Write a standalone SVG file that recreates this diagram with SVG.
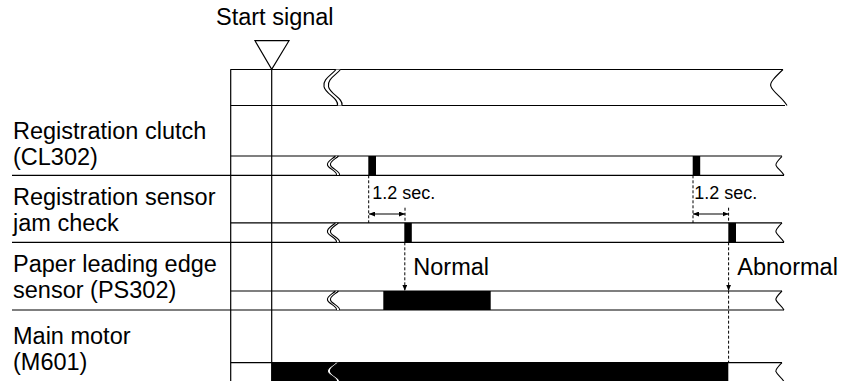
<svg xmlns="http://www.w3.org/2000/svg" xmlns:xlink="http://www.w3.org/1999/xlink" width="843" height="381" viewBox="0 0 843 381">
<style>
  .ln { stroke: #000; stroke-width: 1.2; fill: none; }
  .dash { stroke: #000; stroke-width: 1; fill: none; stroke-dasharray: 3 2; }
  .pulse { fill: #000; stroke: none; }
  .lbl { font-family: "Liberation Sans", Arial, sans-serif; font-size: 23.5px; fill: #000; }
  .sm { font-family: "Liberation Sans", Arial, sans-serif; font-size: 18px; fill: #000; }
  .brk-band { fill: #fff; stroke: none; }
  .brk { stroke: #000; stroke-width: 1.1; fill: none; vector-effect: non-scaling-stroke; }
</style>
<defs>
  <marker id="ah" viewBox="0 0 6 5" refX="6" refY="2.5" markerWidth="6" markerHeight="5" markerUnits="userSpaceOnUse" orient="auto-start-reverse">
    <path d="M0,0 L6,2.5 L0,5 Z" fill="#000"/>
  </marker>
  <g id="lbreak">
    <path class="brk-band" d="M0,0 C-3,3 -9,5 -8,9 C-7,13 2,15 1,19 L4,19 C5,15 -4,13 -5,9 C-6,5 0,3 3,0 Z"/>
    <path class="brk" d="M0,0 C-3,3 -9,5 -8,9 C-7,13 2,15 1,19"/>
    <path class="brk" d="M3,0 C0,3 -6,5 -5,9 C-4,13 5,15 4,19"/>
  </g>
  <g id="rbreak">
    <path class="brk" d="M0,0 C-4,4 -7,7 -6,9 C-5,12 0,15 2,19"/>
  </g>
</defs>

<rect width="843" height="381" fill="#fff"/>

<!-- Start signal -->
<g id="start-signal">
  <text class="lbl" x="216" y="25">Start signal</text>
  <path class="ln" d="M255,40.7 L289,40.7 L271.7,69.3 Z" fill="#fff"/>
</g>

<!-- frame -->
<g id="frame">
  <line class="ln" x1="230.7" y1="69.3" x2="230.7" y2="381"/>
  <line class="ln" x1="271.7" y1="69.3" x2="271.7" y2="381"/>
</g>

<!-- Row 0 (start signal row) -->
<g id="row0">
  <line class="ln" x1="230.7" y1="69.5" x2="783" y2="69.5"/>
  <line class="ln" x1="230.7" y1="105.5" x2="785" y2="105.5"/>
  <use xlink:href="#lbreak" transform="translate(336,69.5) scale(1.5,1.9)"/>
  <use xlink:href="#rbreak" transform="translate(783,69.5) scale(2,1.9)"/>
</g>

<!-- Row 1: Registration clutch -->
<g id="row1">
  <text class="lbl" x="13" y="139">Registration clutch</text>
  <text class="lbl" x="13" y="164.5">(CL302)</text>
  <line class="ln" x1="230.7" y1="156" x2="782" y2="156"/>
  <line class="ln" x1="12" y1="175.3" x2="784" y2="175.3"/>
  <use xlink:href="#lbreak" transform="translate(335.5,156)"/>
  <use xlink:href="#rbreak" transform="translate(782,156.3)"/>
  <rect class="pulse" x="368.3" y="156" width="7.7" height="19.3"/>
  <rect class="pulse" x="692.7" y="156" width="7.5" height="19.3"/>
</g>

<!-- Row 2: Registration sensor jam check -->
<g id="row2">
  <text class="lbl" x="13" y="205">Registration sensor</text>
  <text class="lbl" x="13" y="230.7">jam check</text>
  <line class="ln" x1="230.7" y1="222.9" x2="782" y2="222.9"/>
  <line class="ln" x1="12" y1="242.3" x2="784" y2="242.3"/>
  <use xlink:href="#lbreak" transform="translate(335.5,222.9) scale(1,1.02)"/>
  <use xlink:href="#rbreak" transform="translate(782,222.9) scale(1,1.02)"/>
  <rect class="pulse" x="404.3" y="222.9" width="7.5" height="19.4"/>
  <rect class="pulse" x="728.3" y="222.9" width="7.7" height="19.4"/>
  <text class="sm" x="372.3" y="199">1.2 sec.</text>
  <text class="sm" x="694.3" y="199">1.2 sec.</text>
</g>

<!-- Row 3: Paper leading edge sensor -->
<g id="row3">
  <text class="lbl" x="13" y="271.7">Paper leading edge</text>
  <text class="lbl" x="13" y="298.3">sensor (PS302)</text>
  <line class="ln" x1="230.7" y1="291" x2="782" y2="291"/>
  <line class="ln" x1="12" y1="310" x2="784" y2="310"/>
  <use xlink:href="#lbreak" transform="translate(335.5,291)"/>
  <use xlink:href="#rbreak" transform="translate(782,291)"/>
  <rect class="pulse" x="383.3" y="291" width="107.4" height="19"/>
  <text class="lbl" x="413.3" y="275">Normal</text>
  <text class="lbl" x="737.3" y="275">Abnormal</text>
</g>

<!-- Row 4: Main motor -->
<g id="row4">
  <text class="lbl" x="13" y="344.3">Main motor</text>
  <text class="lbl" x="13" y="370">(M601)</text>
  <line class="ln" x1="230.7" y1="362.7" x2="782" y2="362.7"/>
  <line class="ln" x1="230.7" y1="382.5" x2="784" y2="382.5"/>
  <rect class="pulse" x="271.7" y="362.7" width="456.6" height="20"/>
  <use xlink:href="#lbreak" transform="translate(335.5,362.7)"/>
  <use xlink:href="#rbreak" transform="translate(782,362.7)"/>
</g>

<!-- connectors: dashed timing lines and arrows -->
<g id="connectors">
  <line class="dash" x1="368.7" y1="175.3" x2="368.7" y2="222.9"/>
  <line class="dash" x1="405" y1="207.7" x2="405" y2="222.9"/>
  <line class="dash" x1="404.8" y1="242.3" x2="404.8" y2="290.7" marker-end="url(#ah)"/>
  <line class="ln" x1="369" y1="214" x2="405" y2="214" stroke-width="1" marker-start="url(#ah)" marker-end="url(#ah)"/>

  <line class="dash" x1="693" y1="175.3" x2="693" y2="222.9"/>
  <line class="dash" x1="728.6" y1="207.7" x2="728.6" y2="222.9"/>
  <line class="dash" x1="728.6" y1="242.3" x2="728.6" y2="290.7" marker-end="url(#ah)"/>
  <line class="dash" x1="728.6" y1="290.7" x2="728.6" y2="362.7"/>
  <line class="ln" x1="693" y1="214" x2="728.6" y2="214" stroke-width="1" marker-start="url(#ah)" marker-end="url(#ah)"/>
</g>
</svg>
